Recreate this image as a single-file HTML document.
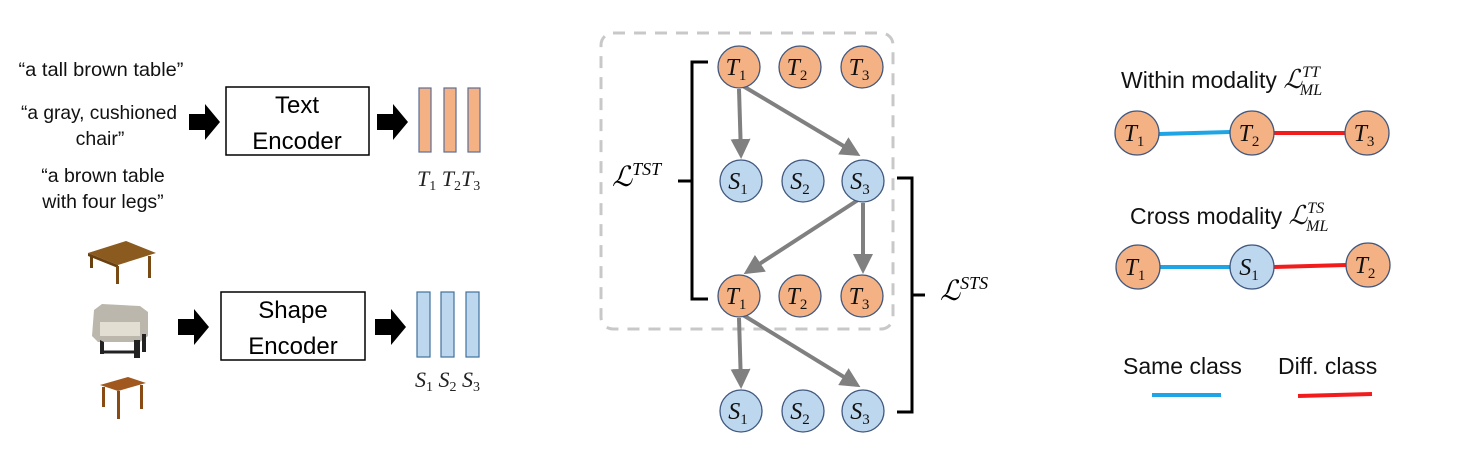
<!DOCTYPE html>
<html><head><meta charset="utf-8"><style>
body{margin:0;background:#fff;}
svg{display:block;}
text{font-family:"Liberation Sans",sans-serif;}
.m,.m text,tspan.m{font-family:"Liberation Serif",serif;font-style:italic;}
</style></head><body>
<svg width="1462" height="457" viewBox="0 0 1462 457" xmlns="http://www.w3.org/2000/svg">
<defs>
<marker id="ah" markerWidth="5" markerHeight="5" refX="4" refY="2.5" orient="auto" markerUnits="strokeWidth">
<path d="M0,0 L5,2.5 L0,5 z" fill="#808080"/></marker>
</defs>
<g font-size="19.5" fill="#111" text-anchor="middle">
<text x="101" y="76" textLength="165" lengthAdjust="spacingAndGlyphs">“a tall brown table”</text>
<text x="99" y="119" textLength="156" lengthAdjust="spacingAndGlyphs">“a gray, cushioned</text>
<text x="100" y="145">chair”</text>
<text x="103" y="182">“a brown table</text>
<text x="103" y="208">with four legs”</text>
</g>
<g fill="#000">
<path d="M189,114 h16 v-10 l15,18 l-15,18 v-10 h-16z"/>
<path d="M377,114 h16 v-10 l15,18 l-15,18 v-10 h-16z"/>
<path d="M178,319 h16 v-10 l15,18 l-15,18 v-10 h-16z"/>
<path d="M375,319 h16 v-10 l15,18 l-15,18 v-10 h-16z"/>
</g>
<rect x="226" y="87" width="143" height="68" fill="#fff" stroke="#000" stroke-width="1.5"/>
<text x="297" y="113" font-size="24" text-anchor="middle">Text</text>
<text x="297" y="149" font-size="24" text-anchor="middle">Encoder</text>
<rect x="221" y="292" width="144" height="68" fill="#fff" stroke="#000" stroke-width="1.5"/>
<text x="293" y="318" font-size="24" text-anchor="middle">Shape</text>
<text x="293" y="354" font-size="24" text-anchor="middle">Encoder</text>
<g fill="#f4b183" stroke="#5b6f9a" stroke-width="1.2">
<rect x="419" y="88" width="12" height="64"/><rect x="444" y="88" width="12" height="64"/><rect x="468" y="88" width="12" height="64"/>
</g>
<g fill="#bdd7ee" stroke="#41719c" stroke-width="1.2">
<rect x="417" y="292" width="13" height="65"/><rect x="441" y="292" width="13" height="65"/><rect x="466" y="292" width="13" height="65"/>
</g>
<g font-size="22" class="m" fill="#222">
<text x="417" y="186">T<tspan font-size="14" font-style="normal" dy="4">1</tspan><tspan dy="-4"> T</tspan><tspan font-size="14" font-style="normal" dy="4">2</tspan><tspan dy="-4">T</tspan><tspan font-size="14" font-style="normal" dy="4">3</tspan></text>
<text x="415" y="387">S<tspan font-size="14" font-style="normal" dy="4">1</tspan><tspan dy="-4"> S</tspan><tspan font-size="14" font-style="normal" dy="4">2</tspan><tspan dy="-4"> S</tspan><tspan font-size="14" font-style="normal" dy="4">3</tspan></text>
</g>
<g>
<path d="M88,253 l38,-12 l30,12 l-38,12z" fill="#8b5a1e"/>
<path d="M88,253 l30,12 v3 l-30,-12z" fill="#6a4010"/>
<rect x="90" y="256" width="3" height="12" fill="#6a4010"/>
<rect x="116" y="266" width="3" height="18" fill="#7a4a14"/>
<rect x="148" y="256" width="3" height="22" fill="#7a4a14"/>
<path d="M94,310 l8,-6 l38,2 l8,6 v24 l-8,6 h-42 l-6,-6z" fill="#bbb7ad"/>
<path d="M100,322 h40 v14 h-40z" fill="#e2ded2"/>
<path d="M100,340 v14 h4 v-12z M134,340 v18 h6 v-18z M142,334 v18 h4 v-18z" fill="#222"/>
<path d="M104,352 h34" stroke="#222" stroke-width="3"/>
<path d="M100,385 l28,-8 l18,6 l-28,8z" fill="#a0581e"/>
<rect x="102" y="387" width="3" height="20" fill="#8a4a14"/>
<rect x="117" y="391" width="3" height="28" fill="#8a4a14"/>
<rect x="140" y="385" width="3" height="24" fill="#8a4a14"/>
</g>
<rect x="601" y="33" width="292" height="296" rx="12" fill="none" stroke="#c8c8c8" stroke-width="3" stroke-dasharray="12,9"/>
<g stroke="#808080" stroke-width="4" fill="none">
<line x1="739" y1="89" x2="741" y2="155" marker-end="url(#ah)"/>
<line x1="743" y1="86" x2="857" y2="154" marker-end="url(#ah)"/>
<line x1="863" y1="203" x2="863" y2="270" marker-end="url(#ah)"/>
<line x1="858" y1="200" x2="747" y2="272" marker-end="url(#ah)"/>
<line x1="739" y1="318" x2="741" y2="385" marker-end="url(#ah)"/>
<line x1="743" y1="315" x2="857" y2="385" marker-end="url(#ah)"/>
</g>
<path d="M708,62 h-16 v237 h16 M692,181 h-14" stroke="#000" stroke-width="3" fill="none"/>
<path d="M897,178 h15 v234 h-15 M912,295 h13" stroke="#000" stroke-width="3" fill="none"/>
<text x="612" y="186" font-size="28" class="m">ℒ<tspan font-size="18" dy="-11">TST</tspan></text>
<text x="940" y="300" font-size="28" class="m">ℒ<tspan font-size="18" dy="-11">STS</tspan></text>
<g stroke="#41587f" stroke-width="1.3">
<g fill="#f4b183">
<circle cx="739" cy="67" r="21"/><circle cx="800" cy="67" r="21"/><circle cx="862" cy="67" r="21"/>
<circle cx="739" cy="296" r="21"/><circle cx="800" cy="296" r="21"/><circle cx="862" cy="296" r="21"/>
</g>
<g fill="#bdd7ee">
<circle cx="741" cy="181" r="21"/><circle cx="803" cy="181" r="21"/><circle cx="863" cy="181" r="21"/>
<circle cx="741" cy="411" r="21"/><circle cx="803" cy="411" r="21"/><circle cx="863" cy="411" r="21"/>
</g>
</g>
<g font-size="24" class="m" fill="#111" text-anchor="middle">
<text x="736" y="75">T<tspan font-size="15" font-style="normal" dy="5">1</tspan></text>
<text x="797" y="75">T<tspan font-size="15" font-style="normal" dy="5">2</tspan></text>
<text x="859" y="75">T<tspan font-size="15" font-style="normal" dy="5">3</tspan></text>
<text x="736" y="304">T<tspan font-size="15" font-style="normal" dy="5">1</tspan></text>
<text x="797" y="304">T<tspan font-size="15" font-style="normal" dy="5">2</tspan></text>
<text x="859" y="304">T<tspan font-size="15" font-style="normal" dy="5">3</tspan></text>
<text x="738" y="189">S<tspan font-size="15" font-style="normal" dy="5">1</tspan></text>
<text x="800" y="189">S<tspan font-size="15" font-style="normal" dy="5">2</tspan></text>
<text x="860" y="189">S<tspan font-size="15" font-style="normal" dy="5">3</tspan></text>
<text x="738" y="419">S<tspan font-size="15" font-style="normal" dy="5">1</tspan></text>
<text x="800" y="419">S<tspan font-size="15" font-style="normal" dy="5">2</tspan></text>
<text x="860" y="419">S<tspan font-size="15" font-style="normal" dy="5">3</tspan></text>
</g>
<g stroke-width="4">
<line x1="1159" y1="134" x2="1230" y2="132" stroke="#1fa5e6"/>
<line x1="1274" y1="133" x2="1345" y2="133" stroke="#f21c1c"/>
<line x1="1160" y1="267" x2="1230" y2="267" stroke="#1fa5e6"/>
<line x1="1274" y1="267" x2="1346" y2="265" stroke="#f21c1c"/>
<line x1="1152" y1="395" x2="1221" y2="395" stroke="#1fa5e6"/>
<line x1="1298" y1="396" x2="1372" y2="394" stroke="#f21c1c"/>
</g>
<g stroke="#41587f" stroke-width="1.3">
<g fill="#f4b183">
<circle cx="1137" cy="133" r="22"/><circle cx="1252" cy="133" r="22"/><circle cx="1367" cy="133" r="22"/>
<circle cx="1138" cy="267" r="22"/><circle cx="1368" cy="265" r="22"/>
</g>
<circle cx="1252" cy="267" r="22" fill="#bdd7ee"/>
</g>
<g font-size="24" class="m" fill="#111" text-anchor="middle">
<text x="1134" y="141">T<tspan font-size="15" font-style="normal" dy="5">1</tspan></text>
<text x="1249" y="141">T<tspan font-size="15" font-style="normal" dy="5">2</tspan></text>
<text x="1364" y="141">T<tspan font-size="15" font-style="normal" dy="5">3</tspan></text>
<text x="1135" y="275">T<tspan font-size="15" font-style="normal" dy="5">1</tspan></text>
<text x="1249" y="275">S<tspan font-size="15" font-style="normal" dy="5">1</tspan></text>
<text x="1365" y="273">T<tspan font-size="15" font-style="normal" dy="5">2</tspan></text>
</g>
<text x="1121" y="88" font-size="23" fill="#111">Within modality <tspan class="m" font-size="26">ℒ</tspan><tspan class="m" font-size="16" dy="-11">TT</tspan><tspan class="m" font-size="16" dx="-20" dy="18">ML</tspan></text>
<text x="1130" y="224" font-size="23" fill="#111">Cross modality <tspan class="m" font-size="26">ℒ</tspan><tspan class="m" font-size="16" dy="-11">TS</tspan><tspan class="m" font-size="16" dx="-18" dy="18">ML</tspan></text>
<text x="1123" y="374" font-size="23" fill="#111">Same class</text>
<text x="1278" y="374" font-size="23" fill="#111">Diff. class</text>
</svg>
</body></html>
